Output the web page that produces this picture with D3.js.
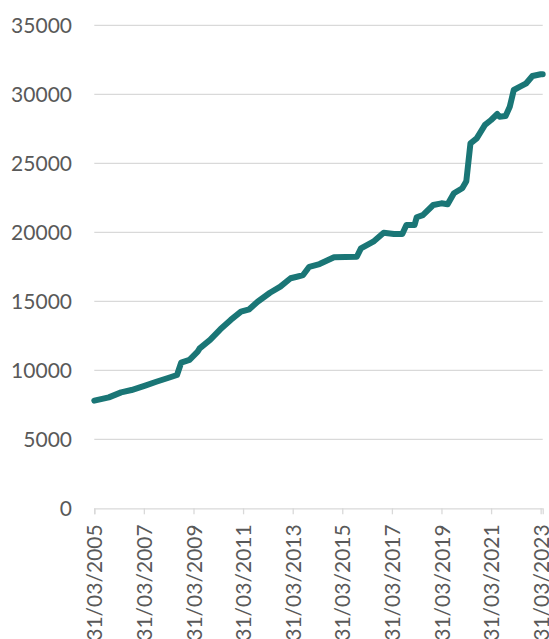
<!DOCTYPE html>
<html>
<head>
<meta charset="utf-8">
<script src="https://cdn.jsdelivr.net/npm/d3@7"></script>
<style>
  body { margin: 0; background: #fff; }
  svg text { font-family: Lato, "Open Sans", sans-serif; fill: #595959; }
</style>
</head>
<body>
<div id="chart"></div>
<script>
// values
const dates = [
  "2005-03-31", "2005-10-31", "2006-04-30", "2006-09-30", "2007-04-30", "2007-09-30",
  "2008-03-31", "2008-07-31", "2008-09-30", "2009-01-31", "2009-05-31", "2009-06-30",
  "2009-11-30", "2010-04-30", "2010-09-30", "2011-02-28", "2011-06-30", "2011-10-31",
  "2012-04-30", "2012-09-30", "2013-02-28", "2013-05-31", "2013-08-31", "2013-11-30",
  "2014-04-30", "2014-11-30", "2015-10-31", "2015-12-31", "2016-06-30", "2016-11-30",
  "2017-04-30", "2017-08-31", "2017-10-31", "2018-02-28", "2018-03-31", "2018-06-30",
  "2018-11-30", "2019-03-31", "2019-06-30", "2019-09-30", "2020-01-31", "2020-03-31",
  "2020-05-31", "2020-08-31", "2020-12-31", "2021-03-31", "2021-06-30", "2021-07-31",
  "2021-10-31", "2021-12-31", "2022-02-28", "2022-05-31", "2022-08-31", "2022-11-30",
  "2023-03-31", "2023-04-30"
];
const values = [
  7800, 8040, 8400, 8570, 8910, 9170,
  9460, 9660, 10550, 10750, 11350, 11590,
  12200, 12970, 13650, 14250, 14420, 14970,
  15620, 16060, 16670, 16780, 16900, 17500,
  17700, 18190, 18230, 18840, 19320, 19970,
  19880, 19880, 20530, 20530, 21090, 21250,
  21980, 22100, 22030, 22830, 23190, 23700,
  26450, 26810, 27780, 28140, 28570, 28380,
  28430, 29100, 30310, 30550, 30800, 31330,
  31450, 31450
];
const yTicks = [0, 5000, 10000, 15000, 20000, 25000, 30000, 35000];
const xTickLabels = ["31/03/2005", "31/03/2007", "31/03/2009", "31/03/2011", "31/03/2013",
  "31/03/2015", "31/03/2017", "31/03/2019", "31/03/2021", "31/03/2023"];

const width = 549, height = 639;
const plotLeft = 94.3, plotRight = 542.7, plotTop = 25.3, plotBottom = 508.3;

const parse = d3.timeParse("%Y-%m-%d");
const parseTick = d3.timeParse("%d/%m/%Y");
const data = dates.map((d, i) => ({ date: parse(d), value: values[i] }));

const svg = d3.select("#chart").append("svg")
  .attr("width", width)
  .attr("height", height);

const x = d3.scaleTime()
  .domain([parse("2005-03-31"), parse("2023-04-30")])
  .range([plotLeft, plotRight]);

const y = d3.scaleLinear()
  .domain([0, 35000])
  .range([plotBottom, plotTop]);

// gridlines
svg.append("g")
  .selectAll("line")
  .data(yTicks.slice(1))
  .enter()
  .append("line")
  .attr("x1", plotLeft)
  .attr("x2", plotRight)
  .attr("y1", d => y(d))
  .attr("y2", d => y(d))
  .attr("stroke", "#d9d9d9")
  .attr("stroke-width", 1.3);

// y labels
svg.append("g")
  .selectAll("text")
  .data(yTicks)
  .enter()
  .append("text")
  .attr("x", 72)
  .attr("y", d => y(d))
  .attr("dy", "0.36em")
  .attr("text-anchor", "end")
  .style("font-size", "21px")
  .text(d => d);

// x axis
const xAxis = d3.axisBottom(x)
  .tickValues(xTickLabels.map(parseTick))
  .tickSize(6)
  .tickFormat(d3.timeFormat("%d/%m/%Y"));

const gx = svg.append("g")
  .attr("transform", `translate(0, ${plotBottom})`)
  .call(xAxis);

gx.select(".domain").attr("stroke", "#d9d9d9").attr("stroke-width", 1.3);
gx.selectAll(".tick line").attr("stroke", "#d9d9d9").attr("stroke-width", 1.3);
gx.selectAll(".tick text")
  .attr("transform", "rotate(-90)")
  .attr("x", -16)
  .attr("y", 0)
  .attr("dy", "0.36em")
  .attr("text-anchor", "end")
  .style("font-size", "21px")
  .style("font-family", "Lato, 'Open Sans', sans-serif")
  .attr("fill", "#595959");

// line
const line = d3.line()
  .x(d => x(d.date))
  .y(d => y(d.value));

svg.append("path")
  .datum(data)
  .attr("d", line)
  .attr("fill", "none")
  .attr("stroke", "#1a7676")
  .attr("stroke-width", 6)
  .attr("stroke-linejoin", "round")
  .attr("stroke-linecap", "round");
</script>
</body>
</html>
